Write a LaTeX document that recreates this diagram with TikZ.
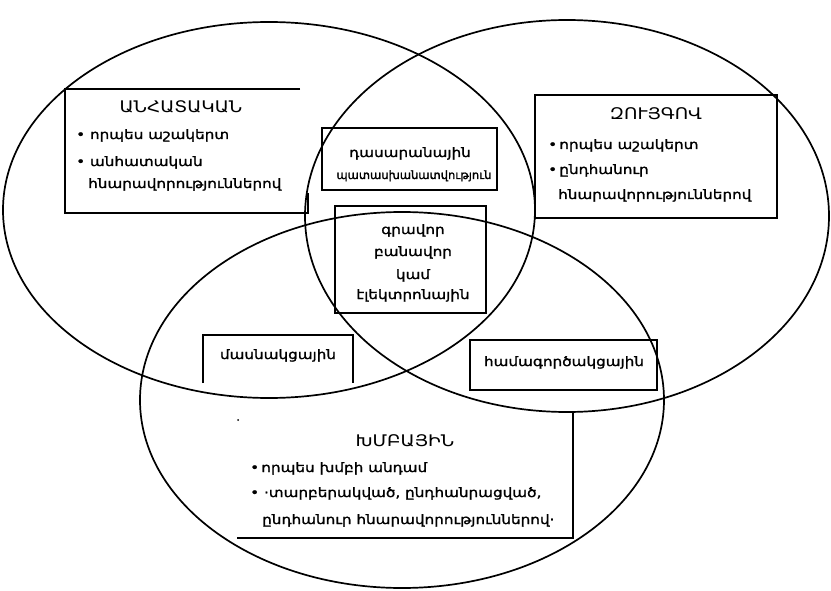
\documentclass[tikz,border=0pt]{standalone}
\usepackage{fontspec}
\setmainfont{DejaVu Sans}
\newfontfamily\armfont[FakeStretch=1.17,FakeBold=1.5]{DejaVu Sans}
\newfontfamily\armtitle[FakeStretch=1.15]{DejaVu Sans}
\newfontfamily\armnarrow[FakeBold=1.5]{DejaVu Sans}
\begin{document}
\begin{tikzpicture}[x=1pt,y=-1pt,
  venn/.style={line width=1.7pt},
  boxline/.style={line width=1.3pt},
  ttl/.style={font=\armtitle\fontsize{16}{18}\selectfont, inner sep=0pt, anchor=base},
  txt/.style={font=\armfont\fontsize{13}{15}\selectfont, inner sep=0pt, anchor=base west},
  ctxt/.style={font=\armfont\fontsize{13}{15}\selectfont, inner sep=0pt, anchor=base},
]
\useasboundingbox (0,0) rectangle (831,591);
\fill[white] (0,0) rectangle (831,591);
% ellipses
\draw[venn] (269,210) ellipse [x radius=266pt, y radius=188pt];
\draw[venn] (567,216) ellipse [x radius=262pt, y radius=196pt];
\draw[venn] (402,400) ellipse [x radius=262pt, y radius=188pt];
% box 1 (individual)
\draw[boxline] (300,89) -- (65,89) -- (65,213) -- (308,213) -- (308,193);
\node[ttl] (t1) at (181,113) {ԱՆՀԱՏԱԿԱՆ};
\node[txt] (a1) at (76,139) {•\ որպես աշակերտ};
\node[txt] (a2) at (76,166) {•\ անհատական};
\node[txt] (a3) at (88,188) {հնարավորություններով};
% box 2 (pairs)
\draw[boxline] (535,95) rectangle (777,218);
\node[ttl] (t2) at (656,120) {ԶՈՒՅԳՈՎ};
\node[txt] (b1) at (548,149) {•\,որպես աշակերտ};
\node[txt] (b2) at (548,174) {•\,ընդհանուր};
\node[txt] (b3) at (558,199) {հնարավորություններով};
% box 3 (top center)
\draw[boxline] (322,128) rectangle (497,190);
\node[ctxt] (c1) at (410,157) {դասարանային};
\node[ctxt, font=\armnarrow\fontsize{11.5}{13}\selectfont] (c2) at (414,179) {պատասխանատվություն};
% box 4 (center)
\draw[boxline] (335,206) rectangle (486,313);
\node[ctxt] (d1) at (413,234) {գրավոր};
\node[ctxt] (d2) at (413,256) {բանավոր};
\node[ctxt] (d3) at (413,279) {կամ};
\node[ctxt] (d4) at (413,299) {էլեկտրոնային};
% box 5 (left lower)
\draw[boxline] (203,383) -- (203,335) -- (353,335) -- (353,383);
\node[ctxt] (e1) at (278,359) {մասնակցային};
% box 6 (right lower)
\draw[boxline] (470,340) rectangle (657,390);
\node[ctxt] (f1) at (564,366) {համագործակցային};
% box 7 (group)
\draw[boxline] (573,413) -- (573,538) -- (237,538);
\fill (238,420) circle (1pt);
\node[ttl] (t3) at (405,446) {ԽՄԲԱՅԻՆ};
\node[txt] (g1) at (250,472) {•\,որպես խմբի անդամ};
\node[txt] (g2) at (250,497) {•\ ·տարբերակված, ընդհանրացված,};
\node[txt] (g3) at (262,524) {ընդհանուր հնարավորություններով·};
\end{tikzpicture}
\end{document}
